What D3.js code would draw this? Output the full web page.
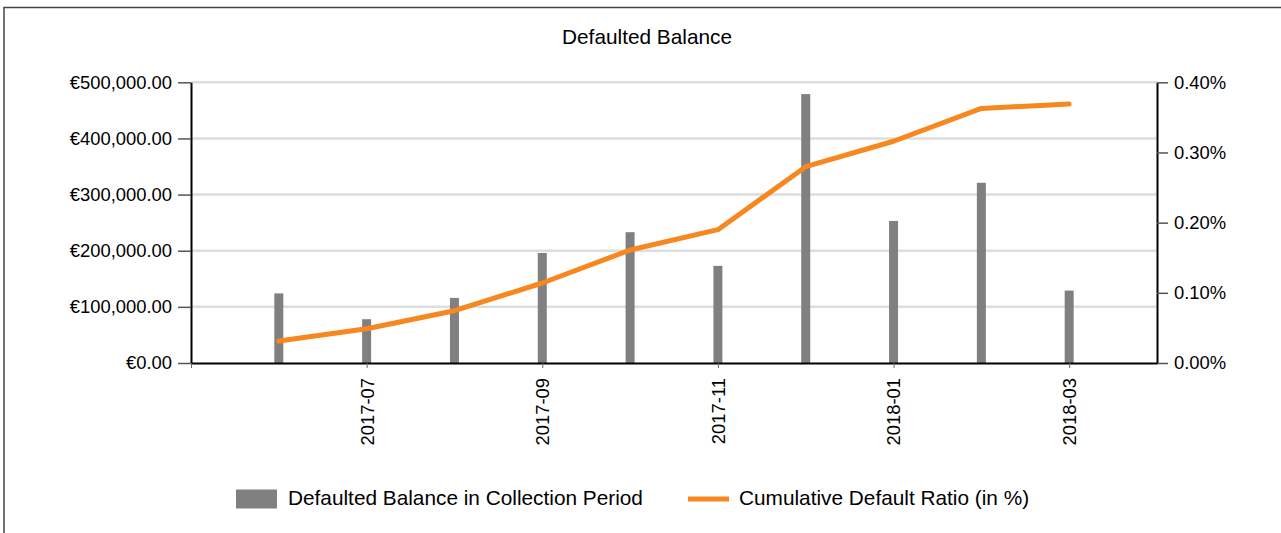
<!DOCTYPE html>
<html><head><meta charset="utf-8">
<script src="https://cdn.jsdelivr.net/npm/d3@7"></script>
<style>
html,body{margin:0;padding:0;background:#fff;}
svg{display:block;font-family:"Liberation Sans",Arial,sans-serif;}
</style></head>
<body>
<svg id="chart" width="1281" height="533"></svg>
<script>
const months = ["2017-06","2017-07","2017-08","2017-09","2017-10","2017-11","2017-12","2018-01","2018-02","2018-03"];
const defaultedBalance = [124000, 78000, 116000, 196000, 233000, 173000, 479000, 253000, 321000, 129000];
const cumulativeRatio = [0.0313, 0.0489, 0.0745, 0.114, 0.161, 0.190, 0.2797, 0.316, 0.3628, 0.369];
const xTickLabels = ["2017-07","2017-09","2017-11","2018-01","2018-03"];
const leftTicks = [0, 100000, 200000, 300000, 400000, 500000];
const rightTicks = [0, 0.1, 0.2, 0.3, 0.4];
const title = "Defaulted Balance";
const seriesNames = ["Defaulted Balance in Collection Period", "Cumulative Default Ratio (in %)"];

const svg = d3.select("#chart");
const L = 191, R = 1157, T = 82.3, B = 363;
const tickFont = 18.4, bigFont = 20.8;

svg.append("rect").attr("x",4).attr("y",7.5).attr("width",1290).attr("height",540)
  .attr("fill","none").attr("stroke","#444").attr("stroke-width",1.5);

const x = d3.scaleLinear().domain([-1, months.length]).range([L, R]);
const yL = d3.scaleLinear().domain([0, 500000]).range([B, T]);
const yR = d3.scaleLinear().domain([0, 0.4]).range([B, T]);

// gridlines
svg.append("g").selectAll("line").data(leftTicks.slice(1)).join("line")
  .attr("x1",L).attr("x2",R).attr("y1",d=>yL(d)).attr("y2",d=>yL(d))
  .attr("stroke","#dddddd").attr("stroke-width",2.5);

// bars
svg.append("g").selectAll("rect").data(defaultedBalance).join("rect")
  .attr("x",(d,i)=>x(i)-4.5).attr("width",9)
  .attr("y",d=>yL(d)).attr("height",d=>B-yL(d))
  .attr("fill","#808080");

// line
const line = d3.line().x((d,i)=>x(i)).y(d=>yR(d));
svg.append("path").datum(cumulativeRatio).attr("d",line)
  .attr("fill","none").attr("stroke","#f7871f").attr("stroke-width",5)
  .attr("stroke-linejoin","round").attr("stroke-linecap","round");

// left axis
const fmtL = v => "€" + d3.format(",.2f")(v);
const gL = svg.append("g").attr("transform",`translate(${L},0)`)
  .call(d3.axisLeft(yL).tickValues(leftTicks).tickFormat(fmtL).tickSize(13).tickPadding(6).tickSizeOuter(0));
gL.select(".domain").attr("stroke","#000").attr("stroke-width",2);
gL.selectAll(".tick line").attr("stroke","#555").attr("stroke-width",1.5);
gL.selectAll(".tick text").attr("font-size",tickFont).attr("fill","#000").attr("font-family","Liberation Sans, Arial, sans-serif");

// right axis
const fmtR = v => d3.format(".2f")(v) + "%";
const gR = svg.append("g").attr("transform",`translate(${R},0)`)
  .call(d3.axisRight(yR).tickValues(rightTicks).tickFormat(fmtR).tickSize(11).tickPadding(6).tickSizeOuter(0));
gR.select(".domain").attr("stroke","#000").attr("stroke-width",2);
gR.selectAll(".tick line").attr("stroke","#555").attr("stroke-width",1.5);
gR.selectAll(".tick text").attr("font-size",tickFont).attr("fill","#000").attr("font-family","Liberation Sans, Arial, sans-serif");

// bottom axis
const tickIdx = [-1].concat(xTickLabels.map(m=>months.indexOf(m)));
const gB = svg.append("g").attr("transform",`translate(0,${B})`)
  .call(d3.axisBottom(x).tickValues(tickIdx).tickFormat(i => i<0 ? "" : months[i]).tickSize(5).tickPadding(10).tickSizeOuter(0));
gB.select(".domain").attr("stroke","#000").attr("stroke-width",2);
gB.selectAll(".tick line").attr("stroke","#666").attr("stroke-width",1);
gB.selectAll(".tick text").attr("font-size",tickFont).attr("fill","#000").attr("font-family","Liberation Sans, Arial, sans-serif")
  .attr("transform","rotate(-90)").attr("text-anchor","end").attr("x",-15).attr("y",0).attr("dy","0.35em");

// title
svg.append("text").attr("x",647).attr("y",44).attr("text-anchor","middle")
  .attr("font-size",bigFont).attr("fill","#000").text(title);

// legend
const lg = svg.append("g");
lg.append("rect").attr("x",236).attr("y",489.5).attr("width",41).attr("height",19).attr("fill","#808080");
lg.append("text").attr("x",288).attr("y",505).attr("font-size",bigFont).attr("fill","#000").text(seriesNames[0]);
lg.append("line").attr("x1",688).attr("x2",729).attr("y1",499).attr("y2",499).attr("stroke","#f7871f").attr("stroke-width",5);
lg.append("text").attr("x",739).attr("y",505).attr("font-size",bigFont).attr("fill","#000").text(seriesNames[1]);
</script>
</body></html>
